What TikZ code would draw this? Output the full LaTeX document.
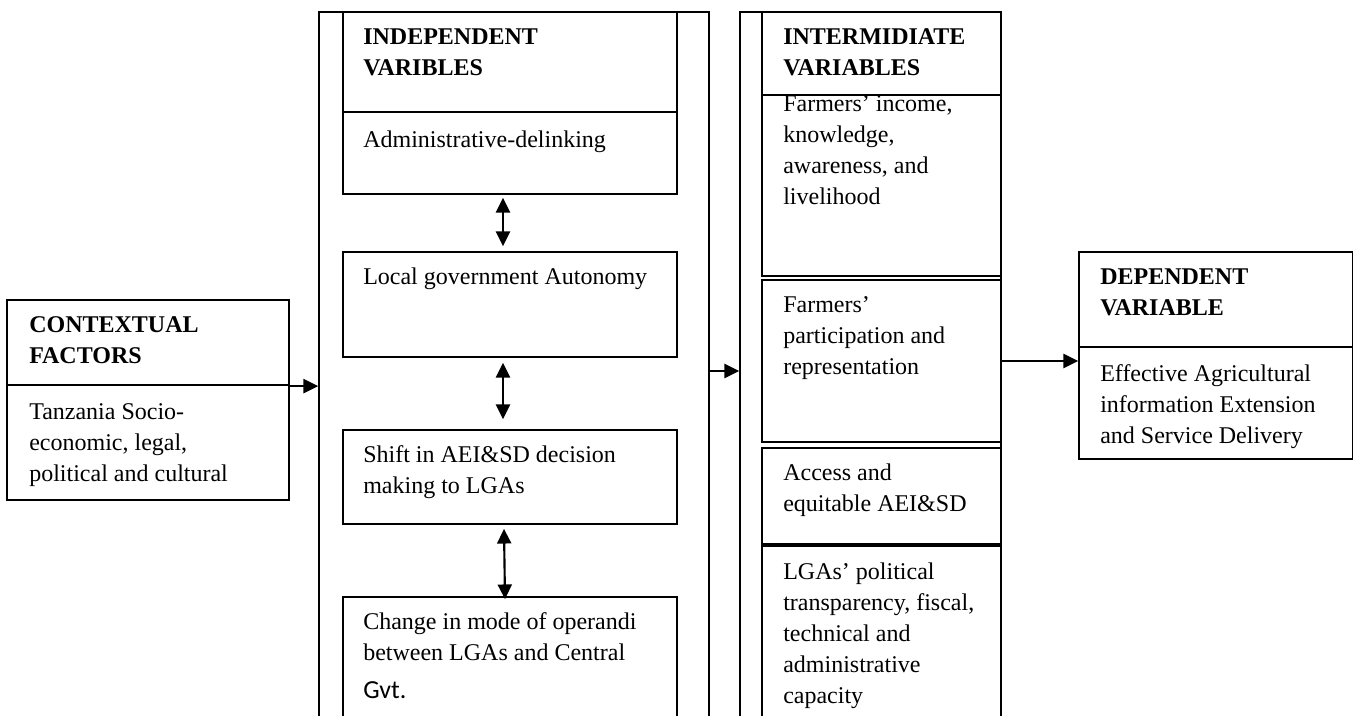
\documentclass[tikz,border=0pt]{standalone}
\usepackage{fontspec}
\setmainfont{Liberation Serif}
\newfontfamily\gvtfont{Carlito}
\usetikzlibrary{fit,arrows.meta}
\begin{document}
\begin{tikzpicture}[x=0.75pt,y=-0.75pt,
  box/.style={draw=black,line width=1.3pt,inner sep=0pt,rectangle},
  txt/.style={inner sep=0pt,align=left,anchor=base west,
    font=\fontsize{18pt}{23.25pt}\selectfont},
  hd/.style={txt,font=\fontsize{18pt}{23.25pt}\selectfont\bfseries},
  arr/.style={line width=1.6pt,-{Triangle[length=11pt,width=10.5pt]}},
  dbl/.style={line width=1.6pt,{Triangle[length=11pt,width=10.5pt]}-{Triangle[length=11pt,width=10.5pt]}}]
\clip (0,0) rectangle (1354,716);
\fill[white] (0,0) rectangle (1354,716);

% frames
\node[box,fit={(319,12) (709,760)}] (indframe) {};
\node[box,fit={(740,12) (1001,760)}] (intframe) {};

% contextual (anchor = baseline of last line)
\node[box,fit={(7,300) (289,385)}] (ctxhead) {};
\node[box,fit={(7,385) (289,500)}] (ctxbody) {};
\node[hd] (ctxheadt) at (29,364) {CONTEXTUAL\\FACTORS};
\node[txt] (ctxbodyt) at (29,482) {Tanzania Socio-\\economic, legal,\\political and cultural};

% independent
\node[box,fit={(343,12) (677,112)}] (indhead) {};
\node[box,fit={(343,112) (677,194)}] (admin) {};
\node[box,fit={(343,252) (677,357)}] (local) {};
\node[box,fit={(343,430) (677,524)}] (shift) {};
\node[box,fit={(343,597) (677,760)}] (change) {};
\node[hd] (indheadt) at (363,76) {INDEPENDENT\\VARIBLES};
\node[txt] (admint) at (363,148) {Administrative-delinking};
\node[txt] (localt) at (363,285) {Local government Autonomy};
\node[txt] (shiftt) at (363,494) {Shift in AEI\&SD decision\\making to LGAs};
\node[txt] (changet) at (363,698) {Change in mode of operandi\\between LGAs and Central\\[5pt]{\gvtfont\fontsize{19.5pt}{23.25pt}\selectfont Gvt.}};

\draw[dbl] ([xshift=-5.25pt,yshift=-2.25pt]admin.south) -- ([xshift=-5.25pt,yshift=3.75pt]local.north);
\draw[dbl] ([xshift=-5.25pt,yshift=-3.75pt]local.south) -- ([xshift=-5.25pt,yshift=7.5pt]shift.north);
\draw[dbl] ([xshift=-4.5pt,yshift=-3pt]shift.south) -- ([xshift=-3.75pt,yshift=-2.25pt]change.north);

% intermediate
\node[box,fit={(762,12) (1001,95)}] (inthead) {};
\node[box,fit={(762,95) (1001,276)}] (income) {};
\node[box,fit={(762,280) (1001,442)}] (part) {};
\node[box,fit={(762,448) (1001,544)}] (access) {};
\node[box,fit={(762,546) (1001,760)}] (lgas) {};
\node[hd] (intheadt) at (783,76) {INTERMIDIATE\\VARIABLES};
\node[txt] (incomet) at (783,205) {Farmers’ income,\\knowledge,\\awareness, and\\livelihood};
\node[txt] (partt) at (783,375) {Farmers’\\participation and\\representation};
\node[txt] (accesst) at (783,512) {Access and\\equitable AEI\&SD};
\node[txt] (lgast) at (783,703) {LGAs’ political\\transparency, fiscal,\\technical and\\administrative\\capacity};

% dependent
\node[box,fit={(1079,252) (1352.5,347)}] (dephead) {};
\node[box,fit={(1079,347) (1352.5,459)}] (depbody) {};
\node[hd] (depheadt) at (1100,316) {DEPENDENT\\VARIABLE};
\node[txt] (depbodyt) at (1100,444) {Effective Agricultural\\information Extension\\and Service Delivery};

% connectors
\draw[arr] ([yshift=-1.5pt]ctxbody.north east) -- ([yshift=-1.5pt]ctxbody.north east -| indframe.west);
\draw[arr] ([yshift=-7.5pt]part.west -| indframe.east) -- ([yshift=-7.5pt]part.west -| intframe.west);
\draw[arr] (part.east) -- (part.east -| depbody.west);
\end{tikzpicture}
\end{document}
